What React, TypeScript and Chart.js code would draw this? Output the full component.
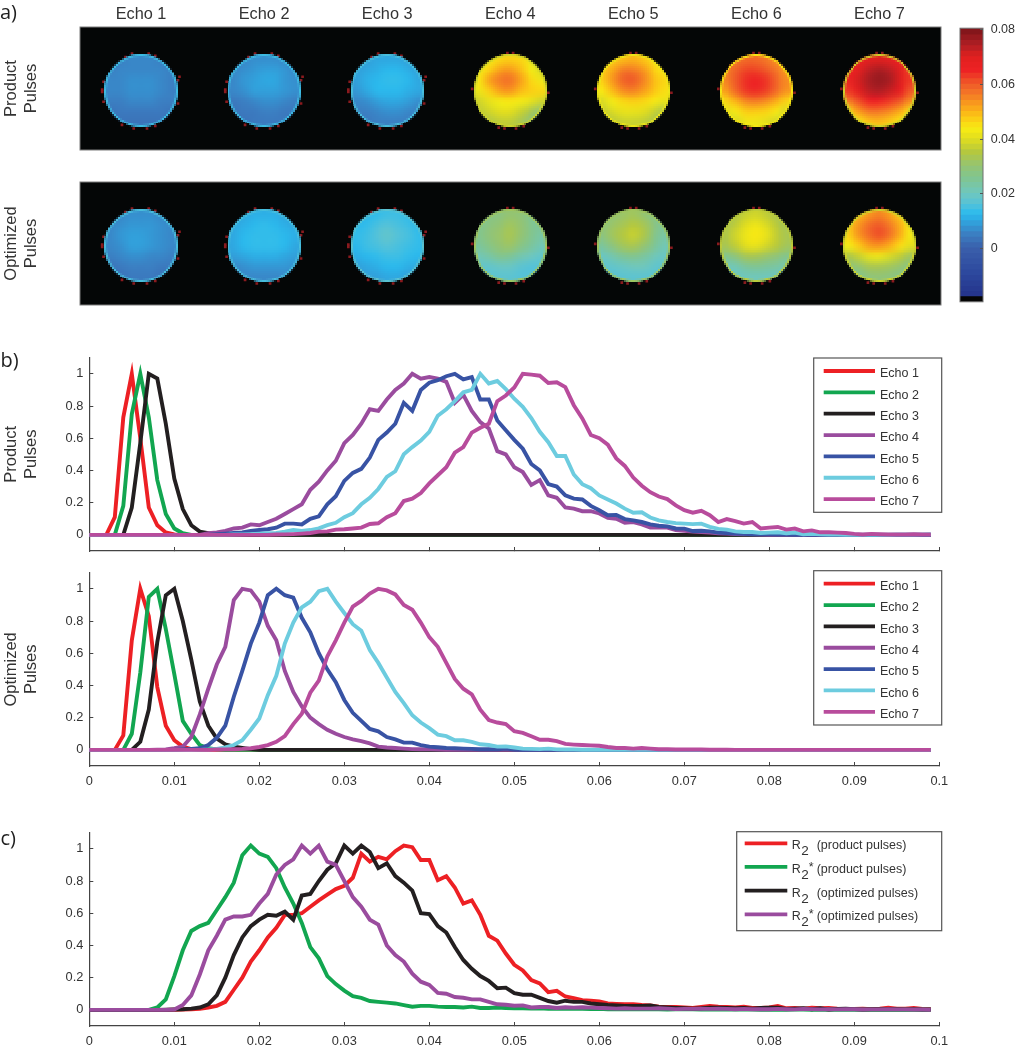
import React, { useEffect, useRef } from "react";
import { Chart, registerables } from "chart.js";

Chart.register(...registerables);
Chart.defaults.font.family = "'Liberation Sans', Arial, sans-serif";
Chart.defaults.color = "#333333";

/* ---------- shared axes / labels ---------- */
const echoLabels = ["Echo 1", "Echo 2", "Echo 3", "Echo 4", "Echo 5", "Echo 6", "Echo 7"];
const echoColors = ["#ED2024", "#12A650", "#231F20", "#9A4C9E", "#3853A4", "#6DCCDF", "#B84C9C"];
const xTickValues = [0, 0.01, 0.02, 0.03, 0.04, 0.05, 0.06, 0.07, 0.08, 0.09, 0.1];
const xTickLabels = ["0", "0.01", "0.02", "0.03", "0.04", "0.05", "0.06", "0.07", "0.08", "0.09", "0.1"];
const yTickValues = [0, 0.2, 0.4, 0.6, 0.8, 1];
const yTickLabels = ["0", "0.2", "0.4", "0.6", "0.8", "1"];
const colorbarTickValues = [0, 0.02, 0.04, 0.06, 0.08];
const colorbarTickLabels = ["0", "0.02", "0.04", "0.06", "0.08"];
const bins = Array.from({ length: 100 }, (_, i) => i / 1000);
const lead = (zeros: number, vals: number[]) => {
  const out = new Array(zeros).fill(0).concat(vals);
  while (out.length < 100) out.push(0);
  return out.slice(0, 100);
};

/* ---------- b) product pulses ---------- */
const productEcho1 = lead(2, [0, 0.11, 0.73, 1, 0.6, 0.17, 0.06, 0.015, 0.003]);
const productEcho2 = lead(3, [0, 0.18, 0.75, 1, 0.73, 0.34, 0.13, 0.04, 0.01]);
const productEcho3 = lead(4, [0, 0.17, 0.57, 1, 0.97, 0.69, 0.35, 0.16, 0.06, 0.02, 0.01]);
const productEcho4 = lead(14, [0.01, 0.015, 0.025, 0.04, 0.045, 0.065, 0.06, 0.08, 0.1, 0.13, 0.16, 0.19, 0.28, 0.33, 0.4, 0.46, 0.57, 0.62, 0.69, 0.78, 0.77, 0.84, 0.9, 0.94, 1, 0.97, 0.98, 0.97, 0.95, 0.82, 0.87, 0.77, 0.7, 0.66, 0.52, 0.5, 0.42, 0.39, 0.31, 0.34, 0.245, 0.23, 0.17, 0.163, 0.147, 0.147, 0.133, 0.106, 0.1, 0.075, 0.08, 0.065, 0.045, 0.045, 0.045, 0.03, 0.025, 0.02, 0.018, 0.015, 0.01, 0.008, 0.005, 0.004, 0.003, 0.002]);
const productEcho5 = lead(15, [0.005, 0.008, 0.012, 0.015, 0.025, 0.03, 0.035, 0.045, 0.07, 0.07, 0.065, 0.1, 0.115, 0.19, 0.24, 0.335, 0.385, 0.41, 0.48, 0.59, 0.635, 0.69, 0.82, 0.77, 0.9, 0.945, 0.96, 0.985, 1, 0.965, 0.98, 0.84, 0.84, 0.71, 0.65, 0.59, 0.535, 0.44, 0.4, 0.315, 0.3, 0.245, 0.225, 0.22, 0.18, 0.153, 0.122, 0.124, 0.098, 0.09, 0.08, 0.065, 0.057, 0.053, 0.04, 0.039, 0.024, 0.026, 0.022, 0.014, 0.012, 0.008, 0.006, 0.004, 0.004, 0.003, 0.002, 0.002, 0.001]);
const productEcho6 = lead(17, [0.002, 0.003, 0.005, 0.008, 0.01, 0.012, 0.02, 0.03, 0.025, 0.03, 0.04, 0.06, 0.075, 0.11, 0.135, 0.19, 0.23, 0.285, 0.36, 0.395, 0.5, 0.545, 0.585, 0.64, 0.74, 0.78, 0.83, 0.885, 0.9, 1, 0.94, 0.955, 0.905, 0.845, 0.795, 0.725, 0.64, 0.575, 0.49, 0.49, 0.375, 0.315, 0.29, 0.245, 0.22, 0.195, 0.163, 0.137, 0.14, 0.108, 0.09, 0.08, 0.073, 0.07, 0.067, 0.07, 0.05, 0.037, 0.033, 0.022, 0.018, 0.018, 0.012, 0.014, 0.016, 0.01, 0.014, 0.004, 0.006, 0.004, 0.002, 0.002, 0.001, 0.001, 0.001, 0.001, 0.001, 0.001, 0.002, 0.002, 0.002, 0.003, 0.004]);
const productEcho7 = lead(22, [0.002, 0.003, 0.005, 0.008, 0.012, 0.02, 0.022, 0.033, 0.035, 0.04, 0.045, 0.068, 0.072, 0.11, 0.135, 0.21, 0.225, 0.26, 0.32, 0.37, 0.42, 0.51, 0.545, 0.635, 0.665, 0.69, 0.83, 0.865, 0.915, 1, 0.995, 0.988, 0.943, 0.947, 0.917, 0.805, 0.723, 0.62, 0.6, 0.56, 0.475, 0.428, 0.356, 0.305, 0.265, 0.238, 0.222, 0.183, 0.153, 0.138, 0.149, 0.122, 0.08, 0.098, 0.086, 0.07, 0.08, 0.04, 0.045, 0.049, 0.033, 0.039, 0.022, 0.028, 0.016, 0.016, 0.014, 0.012, 0.006, 0.002, 0.006, 0.004, 0.002, 0.002, 0.002, 0.004, 0.002, 0.002]);

/* ---------- b) optimized pulses ---------- */
const optimizedEcho1 = lead(3, [0, 0.09, 0.68, 1, 0.83, 0.39, 0.15, 0.06, 0.02, 0.005]);
const optimizedEcho2 = lead(4, [0, 0.1, 0.48, 0.95, 1, 0.75, 0.47, 0.18, 0.1, 0.03, 0.01, 0.003]);
const optimizedEcho3 = lead(5, [0, 0.05, 0.25, 0.67, 0.96, 1, 0.8, 0.56, 0.3, 0.15, 0.07, 0.035, 0.02, 0.012, 0.005]);
const optimizedEcho4 = lead(8, [0.001, 0.003, 0.01, 0.02, 0.08, 0.22, 0.38, 0.53, 0.64, 0.93, 1, 0.99, 0.92, 0.77, 0.68, 0.49, 0.36, 0.27, 0.2, 0.16, 0.125, 0.1, 0.08, 0.065, 0.055, 0.04, 0.02, 0.015, 0.012, 0.008, 0.005, 0.004, 0.003, 0.002]);
const optimizedEcho5 = lead(11, [0.003, 0.006, 0.01, 0.03, 0.075, 0.15, 0.33, 0.49, 0.66, 0.79, 0.96, 1, 0.96, 0.945, 0.82, 0.73, 0.6, 0.5, 0.42, 0.31, 0.23, 0.18, 0.13, 0.115, 0.08, 0.065, 0.045, 0.045, 0.03, 0.02, 0.016, 0.012, 0.01, 0.008, 0.006, 0.004, 0.004, 0.003, 0.008, 0.002]);
const optimizedEcho6 = lead(14, [0.002, 0.006, 0.015, 0.03, 0.06, 0.125, 0.195, 0.34, 0.46, 0.66, 0.79, 0.885, 0.92, 0.985, 1, 0.92, 0.85, 0.78, 0.74, 0.62, 0.54, 0.45, 0.36, 0.29, 0.215, 0.17, 0.135, 0.095, 0.085, 0.06, 0.06, 0.05, 0.035, 0.03, 0.02, 0.022, 0.015, 0.008, 0.006, 0.005, 0.008, 0.003, 0.002, 0.002, 0.001, 0.001, 0.001, 0.001]);
const optimizedEcho7 = lead(15, [0.002, 0.003, 0.004, 0.006, 0.01, 0.018, 0.03, 0.05, 0.085, 0.16, 0.225, 0.355, 0.43, 0.58, 0.68, 0.79, 0.89, 0.925, 0.97, 1, 0.99, 0.965, 0.9, 0.87, 0.79, 0.7, 0.64, 0.54, 0.44, 0.38, 0.345, 0.25, 0.185, 0.17, 0.16, 0.116, 0.106, 0.085, 0.063, 0.063, 0.055, 0.037, 0.033, 0.03, 0.028, 0.026, 0.018, 0.012, 0.012, 0.008, 0.012, 0.008, 0.004, 0.004, 0.002, 0.002, 0.003, 0.002, 0.001, 0.001, 0.001]);

/* ---------- c) R2 / R2* ---------- */
const r2Labels = ["R2 (product pulses)", "R2* (product pulses)", "R2 (optimized pulses)", "R2* (optimized pulses)"];
const r2Colors = ["#ED2024", "#12A650", "#231F20", "#9A4C9E"];
const r2Product = lead(10, [0.001, 0.002, 0.004, 0.007, 0.015, 0.025, 0.05, 0.125, 0.2, 0.3, 0.37, 0.45, 0.51, 0.59, 0.59, 0.6, 0.64, 0.68, 0.715, 0.75, 0.77, 0.82, 0.97, 0.92, 0.95, 0.935, 0.985, 1.02, 1.01, 0.93, 0.93, 0.805, 0.83, 0.76, 0.66, 0.68, 0.59, 0.46, 0.43, 0.35, 0.28, 0.245, 0.185, 0.165, 0.11, 0.118, 0.083, 0.073, 0.06, 0.057, 0.053, 0.04, 0.037, 0.035, 0.035, 0.03, 0.028, 0.02, 0.018, 0.018, 0.015, 0.012, 0.018, 0.025, 0.02, 0.018, 0.015, 0.02, 0.012, 0.012, 0.015, 0.024, 0.01, 0.012, 0.008, 0.014, 0.01, 0.012, 0.008, 0.006, 0.006, 0.008, 0.005, 0.008, 0.014, 0.008, 0.007, 0.012, 0.006, 0.005]);
const r2StarProduct = lead(7, [0, 0.015, 0.065, 0.21, 0.37, 0.49, 0.52, 0.54, 0.62, 0.7, 0.79, 0.96, 1.02, 0.97, 0.95, 0.88, 0.76, 0.66, 0.54, 0.39, 0.32, 0.21, 0.16, 0.12, 0.085, 0.075, 0.055, 0.05, 0.045, 0.04, 0.03, 0.02, 0.025, 0.025, 0.02, 0.018, 0.018, 0.015, 0.02, 0.012, 0.012, 0.015, 0.012, 0.01, 0.01, 0.008, 0.01, 0.007, 0.008, 0.006, 0.007, 0.006, 0.005, 0.006, 0.004, 0.005, 0.003, 0.005, 0.004, 0.003, 0.004, 0.002, 0.003, 0.004, 0.003, 0.002, 0.003, 0.002, 0.002, 0.003, 0.002, 0.002, 0.001, 0.002, 0.001, 0.001, 0.002, 0.002, 0.001, 0.001, 0.002, 0.001, 0.001, 0.002, 0.001, 0.001, 0.001, 0.001, 0.001, 0.001, 0.001, 0.001, 0.001]);
const r2Optimized = lead(9, [0.001, 0.002, 0.004, 0.008, 0.015, 0.035, 0.09, 0.2, 0.34, 0.45, 0.52, 0.56, 0.59, 0.585, 0.61, 0.56, 0.71, 0.72, 0.8, 0.87, 0.91, 1.02, 0.97, 1.02, 0.98, 0.88, 0.91, 0.83, 0.79, 0.74, 0.6, 0.595, 0.52, 0.48, 0.39, 0.31, 0.255, 0.21, 0.18, 0.135, 0.138, 0.104, 0.094, 0.094, 0.075, 0.055, 0.045, 0.057, 0.05, 0.05, 0.04, 0.035, 0.03, 0.028, 0.025, 0.025, 0.025, 0.027, 0.018, 0.015, 0.012, 0.01, 0.008, 0.01, 0.014, 0.014, 0.012, 0.01, 0.012, 0.008, 0.012, 0.014, 0.014, 0.006, 0.008, 0.01, 0.004, 0.01, 0.002, 0.006, 0.008, 0.005, 0.002, 0.004, 0.004, 0.005, 0.004, 0.003, 0.004, 0.002, 0.002]);
const r2StarOptimized = lead(10, [0.002, 0.03, 0.09, 0.22, 0.37, 0.46, 0.56, 0.58, 0.58, 0.59, 0.66, 0.72, 0.84, 0.9, 0.935, 1.02, 0.97, 1.02, 0.92, 0.9, 0.8, 0.7, 0.64, 0.56, 0.53, 0.4, 0.34, 0.3, 0.225, 0.175, 0.155, 0.105, 0.1, 0.08, 0.075, 0.065, 0.065, 0.05, 0.035, 0.032, 0.026, 0.028, 0.015, 0.018, 0.018, 0.012, 0.016, 0.014, 0.016, 0.014, 0.012, 0.01, 0.008, 0.01, 0.008, 0.008, 0.008, 0.01, 0.008, 0.005, 0.006, 0.006, 0.008, 0.006, 0.008, 0.006, 0.004, 0.006, 0.004, 0.005, 0.004, 0.006, 0.004, 0.003, 0.006, 0.005, 0.003, 0.004, 0.003, 0.004, 0.004, 0.002, 0.003, 0.003, 0.004, 0.003, 0.003, 0.002, 0.002, 0.001]);

/* ---------- a) parameter maps: coarse 7x7 readings (x 0.001), top row of the disc first ---------- */
const mapProduct1 = [5,5,6,6,6,5,5, 5,6,6,6,6,6,5, 6,6,7,7,7,6,5, 6,6,7,7,7,6,5, 5,5,6,6,6,5,5, 3,4,4,4,4,4,3, 3,3,3,3,3,3,3];
const mapProduct2 = [5,6,7,7,7,6,5, 6,7,8,9,9,8,6, 6,8,9,10,10,8,7, 6,7,9,9,9,8,7, 4,5,6,7,7,6,5, 3,4,4,5,5,4,4, 3,3,4,4,4,4,3];
const mapProduct3 = [8,9,10,10,10,9,8, 9,10,11,12,12,11,9, 9,11,12,13,13,12,10, 8,10,12,12,12,11,10, 6,7,9,10,10,9,7, 5,5,6,7,7,6,5, 4,4,5,5,5,5,4];
const mapProduct4 = [42,43,46,47,46,42,38, 43,47,52,53,49,43,39, 44,52,56,57,52,46,42, 42,47,52,53,49,47,46, 38,41,43,44,43,41,38, 36,38,40,40,37,33,28, 33,34,36,36,33,28,25];
const mapProduct5 = [45,47,49,50,48,45,42, 47,51,56,56,53,47,44, 47,53,59,60,55,49,46, 44,49,54,55,52,48,45, 39,43,46,47,46,44,41, 36,39,41,41,40,37,33, 33,35,37,37,36,33,30];
const mapProduct6 = [54,56,58,58,56,53,50, 55,59,62,62,60,56,52, 55,60,64,65,63,58,54, 52,58,63,64,62,57,53, 46,50,55,56,54,50,46, 40,43,47,47,46,43,38, 36,38,42,42,40,37,34];
const mapProduct7 = [62,66,69,70,68,65,60, 65,69,73,75,73,69,62, 66,71,75,77,75,70,63, 63,69,73,74,72,67,60, 56,61,65,65,63,60,54, 46,52,56,56,54,50,45, 40,44,48,49,47,44,40];
const mapOptimized1 = [5,6,7,7,7,6,5, 6,7,8,8,8,7,6, 6,8,9,9,8,7,6, 6,7,9,9,8,7,6, 5,6,7,7,6,6,5, 3,4,5,5,5,4,4, 3,3,4,4,4,3,3];
const mapOptimized2 = [9,10,11,11,11,10,9, 10,11,12,13,12,11,10, 10,12,13,13,13,12,11, 10,12,13,13,13,12,10, 9,10,11,11,11,10,9, 6,7,8,8,8,8,7, 5,6,6,6,6,6,6];
const mapOptimized3 = [11,12,13,14,14,13,11, 12,13,15,16,15,14,12, 13,14,16,18,16,15,13, 12,14,15,16,15,14,13, 11,12,13,14,14,13,12, 9,10,11,12,12,11,10, 8,9,9,10,10,9,8];
const mapOptimized4 = [25,27,28,30,29,25,23, 25,28,30,32,30,26,24, 26,29,31,33,30,26,23, 24,27,30,31,27,24,21, 21,23,26,25,22,20,18, 18,18,19,19,17,16,16, 17,17,17,17,16,16,16];
const mapOptimized5 = [27,29,31,32,30,26,24, 28,31,33,35,33,28,24, 28,32,35,37,34,27,23, 24,28,32,33,30,25,21, 19,22,25,26,24,21,19, 17,18,19,20,20,18,17, 16,16,17,17,17,17,16];
const mapOptimized6 = [31,34,37,38,36,33,30, 33,36,40,42,39,35,32, 34,38,42,44,41,36,33, 33,36,40,41,38,35,32, 26,29,33,33,31,29,26, 20,21,24,25,24,23,21, 18,19,20,20,20,19,18];
const mapOptimized7 = [46,49,53,55,52,47,44, 48,53,58,60,56,50,44, 47,53,58,61,57,50,43, 43,47,52,53,50,45,40, 34,37,41,42,39,36,32, 28,30,33,33,32,30,27, 24,25,28,29,28,26,24];
const rimProduct = [14, 14, 15, 38, 42, 44, 38];
const rimOptimized = [15, 15, 17, 32, 32, 36, 38];
const speckleCool = [[-4.7,19.4],[4,19.4],[7.4,18.2],[-8.1,17.6],[-20.2,-0.6],[-20.2,0.6],[-19.5,4.7],[-19.5,-5.7],[19.2,5.5],[20,7.3],[19.2,-6.6],[-9.9,-17.7],[-3.8,-19.6],[3.1,-19.6],[7.4,-18.2]];
const speckleWarm = [[-1.5,19.6],[1.5,19.6],[-19.8,1],[19.8,-1],[-3,-19.6],[3,-19.6],[-6,-19.2],[7,-18.4]];

/* ---------- colour scale ---------- */
const colorStops: [number, number[]][] = [
  [-0.02, [34, 46, 134]], [-0.01, [44, 70, 156]], [0, [58, 96, 172]], [0.005, [59, 127, 194]], [0.0123, [42, 186, 238]],
  [0.016, [85, 194, 216]], [0.02, [111, 199, 189]], [0.025, [127, 197, 148]], [0.03, [148, 196, 114]], [0.035, [181, 200, 62]],
  [0.04, [226, 222, 30]], [0.0435, [247, 236, 19]], [0.048, [252, 197, 21]], [0.052, [249, 160, 27]], [0.056, [244, 122, 38]],
  [0.06, [239, 90, 40]], [0.065, [237, 34, 36]], [0.07, [224, 32, 31]], [0.074, [176, 30, 36]], [0.081, [118, 20, 24]],
];
const colorbarLevels = [-0.0195, -0.0178, -0.016, -0.014, -0.012, -0.01, -0.008, -0.006, -0.004, -0.002, 0, 0.002, 0.004, 0.006, 0.008, 0.01, 0.012, 0.014, 0.016, 0.018, 0.02, 0.022, 0.024, 0.026, 0.028, 0.03, 0.032, 0.034, 0.036, 0.038, 0.04, 0.042, 0.044, 0.046, 0.048, 0.05, 0.052, 0.054, 0.056, 0.058, 0.06, 0.062, 0.064, 0.066, 0.068, 0.07, 0.072, 0.074, 0.076, 0.078, 0.0806];

function mapColor(v: number): number[] {
  if (v <= colorStops[0][0]) return colorStops[0][1];
  for (let i = 1; i < colorStops.length; i++) {
    if (v <= colorStops[i][0]) {
      const [a, ca] = colorStops[i - 1];
      const [b, cb] = colorStops[i];
      const t = (v - a) / (b - a);
      return ca.map((c, k) => Math.round(c + (cb[k] - c) * t));
    }
  }
  return colorStops[colorStops.length - 1][1];
}
const css = (c: number[]) => `rgb(${c[0]},${c[1]},${c[2]})`;

/* ---------- plugins ---------- */
const GRID_N = 7;
const DISC_R = 19;
const TILE = 64;
const DISC_Y = 30.8;

const mapPlugin = {
  id: "discMaps",
  beforeDatasetsDraw(chart: any) {
    const { ctx, chartArea: a } = chart;
    ctx.save();
    ctx.fillStyle = "#040606";
    ctx.fillRect(a.left + 0.5, a.top, a.right - a.left - 0.5, a.bottom - a.top);
    ctx.strokeStyle = "#7c7c7c";
    ctx.lineWidth = 1;
    ctx.strokeRect(a.left + 0.5, a.top, a.right - a.left - 0.5, a.bottom - a.top);
    ctx.restore();
  },
  afterDatasetsDraw(chart: any) {
    const { ctx, scales } = chart;
    chart.data.datasets.forEach((ds: any, i: number) => {
      if (!ds.isMap) return;
      const els = chart.getDatasetMeta(i).data;
      const first = els[0];
      const last = els[GRID_N * GRID_N - 1];
      const off = document.createElement("canvas");
      off.width = GRID_N;
      off.height = GRID_N;
      const octx = off.getContext("2d")!;
      const img = octx.createImageData(GRID_N, GRID_N);
      ds.data.forEach((p: any, k: number) => {
        const c = mapColor(p.v);
        img.data.set([c[0], c[1], c[2], 255], k * 4);
      });
      octx.putImageData(img, 0, 0);

      // the scan's own pixel grid: one canvas pixel per axis unit
      const size = 2 * DISC_R + 2;
      const mid = size / 2;
      const low = document.createElement("canvas");
      low.width = size;
      low.height = size;
      const lctx = low.getContext("2d")!;
      lctx.save();
      lctx.beginPath();
      lctx.arc(mid, mid, DISC_R, 0, Math.PI * 2);
      lctx.clip();
      lctx.imageSmoothingEnabled = true;
      lctx.imageSmoothingQuality = "high";
      lctx.drawImage(off, mid - DISC_R, mid - DISC_R, 2 * DISC_R, 2 * DISC_R);
      lctx.restore();
      lctx.beginPath();
      lctx.arc(mid, mid, DISC_R - 0.5, 0, Math.PI * 2);
      lctx.strokeStyle = css(mapColor(ds.rim / 1000));
      lctx.lineWidth = 1;
      lctx.stroke();

      const cx = (first.x + last.x) / 2;
      const cy = (first.y + last.y) / 2;
      const perUnit = Math.abs(scales.x.getPixelForValue(1) - scales.x.getPixelForValue(0));
      const dest = size * perUnit;
      ctx.save();
      ctx.imageSmoothingEnabled = false;
      ctx.drawImage(low, cx - dest / 2, cy - dest / 2, dest, dest);
      ctx.restore();
    });
  },
};

const framePlugin = {
  id: "barFrame",
  afterDatasetsDraw(chart: any) {
    const { ctx, chartArea: a } = chart;
    ctx.save();
    ctx.strokeStyle = "#6e6e6e";
    ctx.lineWidth = 1;
    ctx.strokeRect(a.left, a.top, a.right - a.left, a.bottom - a.top);
    ctx.restore();
  },
};

const boxLegendPlugin = {
  id: "boxLegend",
  afterDatasetsDraw(chart: any, _args: any, o: any) {
    if (!o || !o.box) return;
    const { ctx } = chart;
    const [l, t, r, b] = o.box;
    ctx.save();
    ctx.fillStyle = "#ffffff";
    ctx.fillRect(l, t, r - l, b - t);
    ctx.strokeStyle = "#555555";
    ctx.lineWidth = 1.2;
    ctx.strokeRect(l, t, r - l, b - t);
    chart.data.datasets.forEach((ds: any, i: number) => {
      const y = o.firstY + i * o.step;
      ctx.strokeStyle = ds.borderColor;
      ctx.lineWidth = 3.8;
      ctx.beginPath();
      ctx.moveTo(o.lineX[0], y);
      ctx.lineTo(o.lineX[1], y);
      ctx.stroke();
      ctx.fillStyle = "#333333";
      ctx.textBaseline = "alphabetic";
      ctx.textAlign = "left";
      const base = y + o.baseShift;
      const m = /^R2(\*?) (.*)$/.exec(ds.label);
      if (m) {
        ctx.font = "12.5px 'Liberation Sans'";
        ctx.fillText("R", o.textX, base);
        ctx.fillText(m[2], o.textX + 25, base);
        ctx.font = "13.5px 'Liberation Sans'";
        ctx.fillText("2", o.textX + 9.5, base + 6);
        if (m[1]) {
          ctx.font = "12.5px 'Liberation Sans'";
          ctx.fillText("*", o.textX + 17, base - 2);
        }
      } else {
        ctx.font = "12.5px 'Liberation Sans'";
        ctx.fillText(ds.label, o.textX, base);
      }
    });
    ctx.restore();
  },
};

const panelLabelPlugin = {
  id: "panelLabel",
  afterDraw(chart: any, _args: any, o: any) {
    if (!o || !o.text) return;
    const { ctx } = chart;
    ctx.save();
    ctx.font = "20px 'Open Sans'";
    ctx.fillStyle = "#1f1f1f";
    ctx.textAlign = "left";
    ctx.textBaseline = "alphabetic";
    ctx.fillText(o.text, o.x, o.y);
    ctx.restore();
  },
};

/* ---------- chart builders ---------- */
const AXIS = "#444444";

function lineConfig(opts: {
  labels: string[];
  colors: string[];
  series: number[][];
  showX: boolean;
  title?: string[];
  legend: any;
  panel?: any;
  topPad: number;
  bottomPad: number;
}) {
  return {
    type: "line",
    data: {
      datasets: opts.series.map((s, i) => ({
        label: opts.labels[i],
        data: s.map((y, k) => ({ x: bins[k], y })),
        borderColor: opts.colors[i],
        backgroundColor: opts.colors[i],
        borderWidth: 3.9,
        pointRadius: 0,
        tension: 0,
        fill: false,
        clip: false,
        order: opts.series.length - i,
      })),
    },
    options: {
      animation: false,
      responsive: false,
      layout: { padding: { top: opts.topPad, right: 60.7, left: 0, bottom: 0 } },
      plugins: { legend: { display: false }, tooltip: { enabled: false }, boxLegend: opts.legend, panelLabel: opts.panel || {} },
      scales: {
        x: {
          type: "linear",
          min: 0,
          max: 0.1,
          afterBuildTicks: (s: any) => { s.ticks = xTickValues.map((value) => ({ value })); },
          afterFit: (s: any) => { s.height = opts.bottomPad; },
          border: { display: true, color: AXIS, width: 1.2 },
          grid: { display: true, drawOnChartArea: false, drawTicks: true, tickLength: -4, tickColor: AXIS, lineWidth: 1 },
          ticks: {
            display: opts.showX,
            autoSkip: false,
            maxRotation: 0,
            padding: 12,
            color: "#333333",
            font: { size: 12.8 },
            callback: (_v: any, i: number) => xTickLabels[i],
          },
        },
        y: {
          type: "linear",
          min: -0.1,
          max: 1.1,
          afterBuildTicks: (s: any) => { s.ticks = yTickValues.map((value) => ({ value })); },
          afterFit: (s: any) => { s.width = 89.3; },
          border: { display: true, color: AXIS, width: 1.2 },
          grid: { display: true, drawOnChartArea: false, drawTicks: true, tickLength: -4, tickColor: AXIS, lineWidth: 1 },
          title: opts.title
            ? { display: true, text: opts.title, font: { size: 16.5, lineHeight: 1.2 }, color: "#333333", padding: { top: 1.5, bottom: 0 } }
            : { display: false },
          ticks: {
            autoSkip: false,
            padding: 10,
            color: "#333333",
            font: { size: 12.8 },
            callback: (_v: any, i: number) => yTickLabels[i],
          },
        },
      },
    },
    plugins: [boxLegendPlugin, panelLabelPlugin],
  };
}

function mapConfig(opts: { maps: number[][]; rims: number[]; title: string[]; showEchoes: boolean; topPad: number; panel?: any }) {
  const datasets: any[] = opts.maps.map((vals, d) => ({
    label: echoLabels[d],
    isMap: true,
    rim: opts.rims[d],
    pointRadius: 0,
    showLine: false,
    data: vals.map((v, k) => {
      const col = k % GRID_N;
      const row = Math.floor(k / GRID_N);
      const cell = (2 * DISC_R) / GRID_N;
      return {
        x: TILE * (d + 0.5) + (col - (GRID_N - 1) / 2) * cell,
        y: DISC_Y + ((GRID_N - 1) / 2 - row) * cell,
        v: v / 1000,
      };
    }),
  }));
  opts.maps.forEach((_, d) => {
    const list = opts.rims[d] > 25 ? speckleWarm : speckleCool;
    datasets.push({
      label: `rim ${d + 1}`,
      showLine: false,
      pointStyle: "rect",
      pointRadius: 1.9,
      pointBorderWidth: 0,
      backgroundColor: "#8a1a1e",
      data: list.map(([dx, dy]) => ({ x: TILE * (d + 0.5) + dx, y: DISC_Y + dy })),
    });
  });
  return {
    type: "scatter",
    data: { datasets },
    options: {
      animation: false,
      responsive: false,
      layout: { padding: { top: opts.topPad, right: 3, left: 0, bottom: 0 } },
      plugins: { legend: { display: false }, tooltip: { enabled: false }, panelLabel: opts.panel || {} },
      scales: {
        x: {
          type: "linear",
          position: "top",
          display: opts.showEchoes,
          min: 0,
          max: TILE * 7,
          afterBuildTicks: (s: any) => { s.ticks = echoLabels.map((_, i) => ({ value: TILE * (i + 0.5) })); },
          afterFit: (s: any) => { s.height = opts.showEchoes ? 27 : 0; },
          border: { display: false },
          grid: { display: false, drawTicks: false },
          ticks: {
            autoSkip: false,
            maxRotation: 0,
            padding: 3,
            color: "#333333",
            font: { size: 16.3 },
            callback: (_v: any, i: number) => echoLabels[i],
          },
        },
        y: {
          type: "linear",
          min: 0,
          max: TILE,
          afterFit: (s: any) => { s.width = 79.5; },
          border: { display: false },
          grid: { display: false, drawTicks: false },
          title: { display: true, text: opts.title, font: { size: 16.5, lineHeight: 1.2 }, color: "#333333", padding: { top: 1.5, bottom: 0 } },
          ticks: { display: false },
        },
      },
    },
    plugins: [mapPlugin, panelLabelPlugin],
  };
}

function colorbarConfig() {
  const datasets = colorbarLevels.slice(0, -1).map((lo, i) => {
    const hi = colorbarLevels[i + 1];
    return {
      label: `band ${i + 1}`,
      data: [[lo, hi + 0.0002]],
      backgroundColor: i === 0 ? "#050505" : css(mapColor((lo + hi) / 2)),
      barPercentage: 1,
      categoryPercentage: 1,
      grouped: false,
      borderWidth: 0,
    };
  });
  return {
    type: "bar",
    data: { labels: ["scale"], datasets },
    options: {
      animation: false,
      responsive: false,
      layout: { padding: { top: 17, left: 15, right: 0, bottom: 13 } },
      plugins: { legend: { display: false }, tooltip: { enabled: false } },
      scales: {
        x: { display: false },
        y: {
          position: "right",
          type: "linear",
          min: -0.0195,
          max: 0.0806,
          afterBuildTicks: (s: any) => { s.ticks = colorbarTickValues.map((value) => ({ value })); },
          afterFit: (s: any) => { s.width = 32; },
          border: { display: false },
          grid: { display: true, drawOnChartArea: false, drawTicks: true, tickLength: -3, tickColor: "#555555", z: 1 },
          ticks: {
            padding: 10.7,
            color: "#333333",
            font: { size: 12.5 },
            callback: (_v: any, i: number) => colorbarTickLabels[i],
          },
        },
      },
    },
    plugins: [framePlugin],
  };
}

/* ---------- components ---------- */
function Panel({ left, top, width, height, make }: { left: number; top: number; width: number; height: number; make: () => any }) {
  const ref = useRef<HTMLCanvasElement | null>(null);
  useEffect(() => {
    const chart = new Chart(ref.current as HTMLCanvasElement, make());
    return () => chart.destroy();
  }, []);
  return (
    <canvas
      ref={ref}
      width={width}
      height={height}
      style={{ position: "absolute", left, top, width, height, display: "block" }}
    />
  );
}

const echoLegend = (boxTop: number) => ({
  box: [813.7, boxTop, 941.7, boxTop + 154.3],
  lineX: [823.7, 875],
  textX: 880,
  firstY: boxTop + 13,
  step: 21.35,
  baseShift: 6.3,
});

export default function App() {
  return (
    <div style={{ position: "absolute", left: 0, top: 0, width: 1015, height: 1050, overflow: "hidden", background: "#ffffff" }}>
      <Panel left={0} top={0} width={945} height={154} make={() => mapConfig({
        maps: [mapProduct1, mapProduct2, mapProduct3, mapProduct4, mapProduct5, mapProduct6, mapProduct7],
        rims: rimProduct, title: ["Product", "Pulses"], showEchoes: true, topPad: 0,
        panel: { text: "a)", x: 0, y: 19 },
      })} />
      <Panel left={0} top={165} width={945} height={144} make={() => mapConfig({
        maps: [mapOptimized1, mapOptimized2, mapOptimized3, mapOptimized4, mapOptimized5, mapOptimized6, mapOptimized7],
        rims: rimOptimized, title: ["Optimized", "Pulses"], showEchoes: false, topPad: 17,
      })} />
      <Panel left={945} top={10} width={70} height={310} make={colorbarConfig} />
      <Panel left={0} top={340} width={1000} height={240} make={() => lineConfig({
        labels: echoLabels, colors: echoColors,
        series: [productEcho1, productEcho2, productEcho3, productEcho4, productEcho5, productEcho6, productEcho7],
        showX: false, title: ["Product", "Pulses"], topPad: 15, bottomPad: 29,
        legend: echoLegend(358 - 340), panel: { text: "b)", x: 0.5, y: 27 },
      })} />
      <Panel left={0} top={555} width={1000} height={240} make={() => lineConfig({
        labels: echoLabels, colors: echoColors,
        series: [optimizedEcho1, optimizedEcho2, optimizedEcho3, optimizedEcho4, optimizedEcho5, optimizedEcho6, optimizedEcho7],
        showX: true, title: ["Optimized", "Pulses"], topPad: 15, bottomPad: 29,
        legend: echoLegend(570.7 - 555),
      })} />
      <Panel left={0} top={815} width={1000} height={235} make={() => lineConfig({
        labels: r2Labels, colors: r2Colors,
        series: [r2Product, r2StarProduct, r2Optimized, r2StarOptimized],
        showX: true, topPad: 15, bottomPad: 24,
        legend: { box: [736.7, 831.7 - 815, 941.7, 930.7 - 815], lineX: [744.7, 787.3], textX: 791.7, firstY: 843.3 - 815, step: 23.67, baseShift: 6 },
        panel: { text: "c)", x: 0.5, y: 845 - 815 },
      })} />
    </div>
  );
}
